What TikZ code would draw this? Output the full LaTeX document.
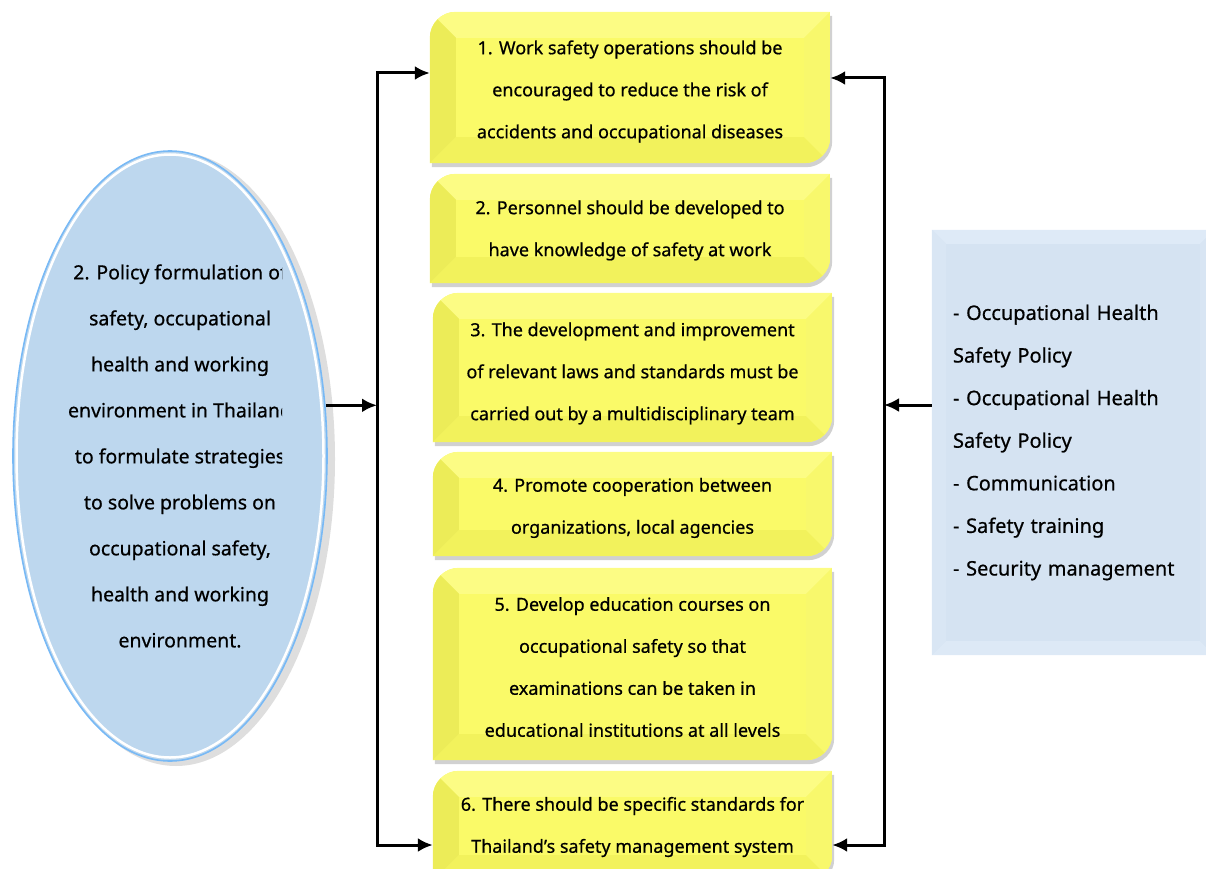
\documentclass[tikz,border=0pt]{standalone}
\usepackage{fontspec}
\setmainfont{Noto Sans}[FakeBold=0.6]
\usetikzlibrary{arrows.meta,calc,shapes.geometric}
\pgfdeclarelayer{bg}
\pgfsetlayers{bg,main}
\definecolor{yMain}{RGB}{250,250,104}
\definecolor{yTop}{RGB}{252,252,132}
\definecolor{yLeft}{RGB}{236,236,88}
\definecolor{yBot}{RGB}{242,242,92}
\definecolor{yRight}{RGB}{248,248,108}
\definecolor{bMain}{RGB}{213,227,242}
\definecolor{bTop}{RGB}{222,234,247}
\definecolor{bLeft}{RGB}{217,230,244}
\definecolor{bBot}{RGB}{221,233,246}
\definecolor{bRight}{RGB}{216,229,243}
\definecolor{eFill}{RGB}{189,215,238}
\definecolor{eEdge}{RGB}{120,185,245}
\newcommand\shapepath[3]{%
  ($(#1.south west)+#3$) -- ($(#1.north west)+(0pt,-#2)+#3$)
  .. controls ($(#1.north west)+(0pt,-0.45*#2)+#3$) and ($(#1.north west)+(0.45*#2,0pt)+#3$) .. ($(#1.north west)+(#2,0pt)+#3$)
  -- ($(#1.north east)+#3$) -- ($(#1.south east)+(0pt,#2)+#3$)
  .. controls ($(#1.south east)+(0pt,0.45*#2)+#3$) and ($(#1.south east)+(-0.45*#2,0pt)+#3$) .. ($(#1.south east)+(-#2,0pt)+#3$)
  -- cycle}
% #1 node, #2 radius, #3 main, #4 top, #5 left, #6 bottom, #7 right, #8 bevel width
\newcommand\bevelshape[8]{%
  \begin{scope}
    \clip \shapepath{#1}{#2}{(0pt,0pt)};
    \fill[#3] (#1.north west) rectangle (#1.south east);
    \fill[#4] (#1.north west) -- (#1.north east) -- ($(#1.north east)+(-#8,-#8)$) -- ($(#1.north west)+(#8,-#8)$) -- cycle;
    \fill[#5] (#1.north west) -- ($(#1.north west)+(#8,-#8)$) -- ($(#1.south west)+(#8,#8)$) -- (#1.south west) -- cycle;
    \fill[#6] (#1.south west) -- ($(#1.south west)+(#8,#8)$) -- ($(#1.south east)+(-#8,#8)$) -- (#1.south east) -- cycle;
    \fill[#7] (#1.north east) -- (#1.south east) -- ($(#1.south east)+(-#8,#8)$) -- ($(#1.north east)+(-#8,-#8)$) -- cycle;
  \end{scope}}
\newcommand\yshape[1]{%
  \fill[black, opacity=.18] \shapepath{#1}{26pt}{(2pt,-4pt)};
  \bevelshape{#1}{26pt}{yMain}{yTop}{yLeft}{yBot}{yRight}{26pt}}
\tikzset{
  ybox/.style={rectangle, inner sep=0pt},
  ytext/.style={inner sep=0pt, align=center, font=\fontsize{18}{42}\selectfont},
  arr/.style={line width=3pt, -{Latex[length=15pt,width=14pt]}, line join=miter},
}
\begin{document}
\begin{tikzpicture}[x=1pt,y=-1pt]
\useasboundingbox (0,0) rectangle (1206,869);
% yellow boxes
\node[ybox, minimum width=400pt, minimum height=151pt] (b1) at (630,87.5) {};
\node[ybox, minimum width=400pt, minimum height=109pt] (b2) at (630,228.5) {};
\node[ybox, minimum width=399pt, minimum height=149pt] (b3) at (632.5,367.5) {};
\node[ybox, minimum width=399pt, minimum height=104pt] (b4) at (632.5,504) {};
\node[ybox, minimum width=399pt, minimum height=192pt] (b5) at (632.5,664) {};
\node[ybox, minimum width=399pt, minimum height=110pt] (b6) at (632.5,826) {};
\node[ytext] (t1) at ([yshift=-4pt]b1.center)
  {1. Work safety operations should be\\encouraged to reduce the risk of\\accidents and occupational diseases};
\node[ytext] (t2) at ([yshift=-2pt]b2.center)
  {2. Personnel should be developed to\\have knowledge of safety at work};
\node[ytext] (t3) at ([yshift=-6pt]b3.center)
  {3. The development and improvement\\of relevant laws and standards must be\\carried out by a multidisciplinary team};
\node[ytext] (t4) at ([yshift=-4pt]b4.center)
  {4. Promote cooperation between\\organizations, local agencies};
\node[ytext] (t5) at ([yshift=-3pt]b5.center)
  {5. Develop education courses on\\occupational safety so that\\examinations can be taken in\\educational institutions at all levels};
\node[ytext] (t6) at ([yshift=-1pt]b6.center)
  {6. There should be specific standards for\\Thailand's safety management system};
% right box
\node[rectangle, inner xsep=21pt, inner ysep=0pt, text width=240pt, minimum height=425pt, align=left,
  font=\fontsize{20}{42.6}\selectfont] (r) at (1073,442.5)
  {- Occupational Health\\Safety Policy\\- Occupational Health\\Safety Policy\\- Communication\\- Safety training\\- Security management};
% ellipse
\node[ellipse, minimum width=316pt, minimum height=612pt, inner sep=0pt] (e) at (170,456) {};
\begin{scope}
  \clip (0,0) rectangle (282,869);
  \node[align=center, inner sep=0pt, font=\fontsize{19.5}{46}\selectfont] (et) at (180,456)
    {2. Policy formulation of\\safety, occupational\\health and working\\environment in Thailand\\to formulate strategies\\to solve problems on\\occupational safety,\\health and working\\environment.};
\end{scope}
\begin{pgfonlayer}{bg}
  \yshape{b1}
  \yshape{b2}
  \yshape{b3}
  \yshape{b4}
  \yshape{b5}
  \yshape{b6}
  \bevelshape{r}{0.01pt}{bMain}{bTop}{bLeft}{bBot}{bRight}{14pt}
  \fill[black, opacity=.13] ($(e.center)+(6pt,-3pt)$) ellipse [x radius=159pt, y radius=307pt];
  \fill[eFill, draw=eEdge, line width=1.6pt] (e.center) ellipse [x radius=157pt, y radius=305pt];
  \draw[white, line width=2.5pt] (e.center) ellipse [x radius=153.5pt, y radius=301.5pt];
\end{pgfonlayer}
% connectors
\coordinate (Lm) at (377,405);
\coordinate (Lt) at (377,73);
\coordinate (Lb) at (377,845);
\coordinate (Rm) at (884,405);
\coordinate (Rt) at (884,78);
\coordinate (Rb) at (884,845);
\draw[arr] (e.18) -- (e.18 -| Lm);
\draw[arr] (Lm) |- (b1.west |- Lt);
\draw[arr] (Lm) |- (b6.west |- Lb);
\draw[arr] (r.west |- Rm) -- (Rm);
\draw[arr] (Rm) |- (b1.east |- Rt);
\draw[arr] (Rm) |- (b6.east |- Rb);
\end{tikzpicture}
\end{document}
